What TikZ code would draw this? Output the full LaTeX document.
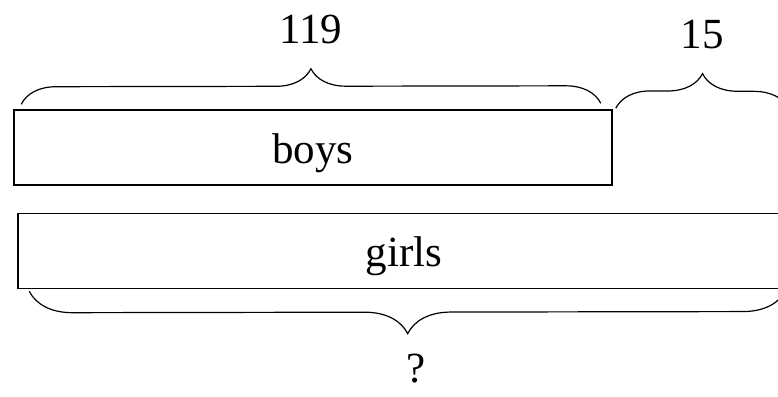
\documentclass[tikz,border=0pt]{standalone}
\usepackage{fontspec}
\setmainfont{Liberation Serif}
\usetikzlibrary{decorations.pathreplacing}

\begin{document}
\begin{tikzpicture}[x = 1pt, y = -1pt]
% Node styles ---
\tikzstyle{bar} = [rectangle, line width = 1.5pt, draw = black, inner sep = 0pt, minimum height = 75pt, text height = 0.95em, text depth = 0.22em] % Bars
\tikzstyle{num} = [anchor = base, inner sep = 0pt] % Labels over braces
% Edge styles
\tikzstyle{brc} = [decorate, decoration = {brace, amplitude = 35pt}, line width = 1.2pt] % Braces
\tikzstyle{brcm} = [decorate, decoration = {brace, mirror, amplitude = 43pt}, line width = 1.2pt] % Braces below
% Begin Figure ---
\useasboundingbox (0,0) rectangle (778,396);
\clip (0,0) rectangle (778,396);
\fontsize{43}{50}\selectfont
% Nodes
\node at (+313.0,+147.5) [bar, minimum width = 598pt] (boys) {boys};
\node at (+404.0,+251.0) [bar, minimum width = 772pt] (girls) {girls};
\coordinate (b1) at ([xshift = 8pt, yshift = 5pt]boys.north west);
\coordinate (b2) at ([xshift = -12pt, yshift = 6pt]boys.north east);
\coordinate (f1) at ([xshift = 3pt, yshift = 1pt]boys.north east);
\coordinate (f2) at (+789.0,+109.0);
\coordinate (g1) at ([xshift = 12pt, yshift = -2pt]girls.south west);
\coordinate (g2) at (+786.0,+290.0);
% Paths
\draw [brc] (b1) -- node [num, yshift = 60pt] (n119) {119} (b2);
\draw [brc] (f1) -- node [num, yshift = 60pt] (n15) {15} (f2);
\draw [brcm] (g1) -- node [num, xshift = 8pt, yshift = -92pt] (nq) {?} (g2);
\end{tikzpicture}
\end{document}
